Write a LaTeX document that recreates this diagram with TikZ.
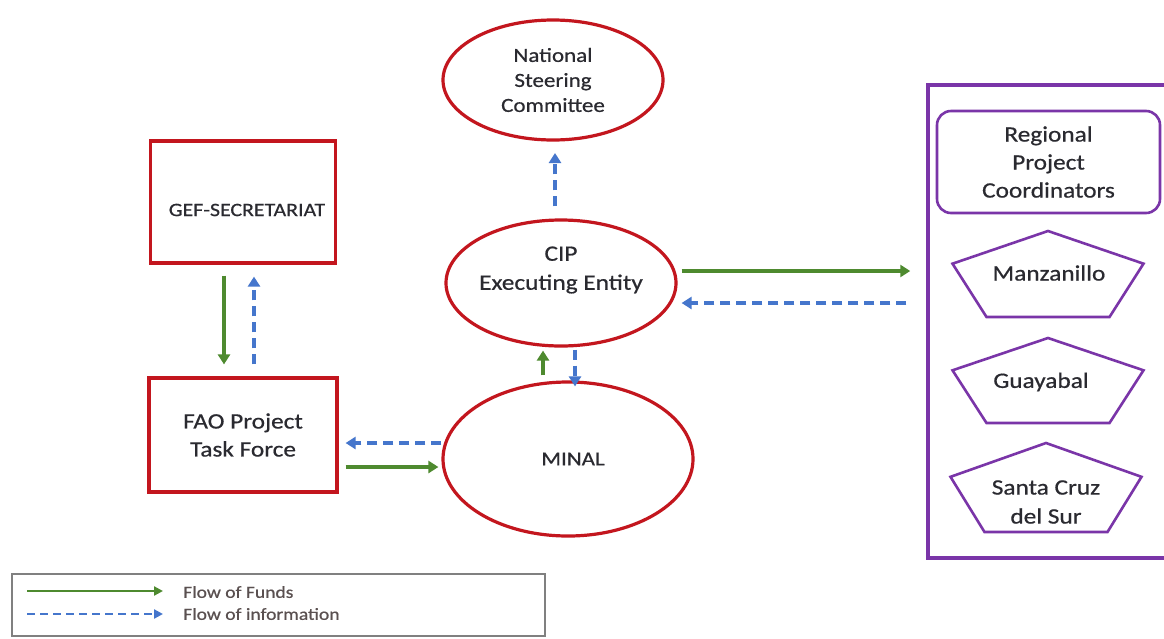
\documentclass[tikz,border=0pt]{standalone}
\usepackage{fontspec}
\setmainfont{Carlito}[FakeStretch=1.15,FakeBold=0.6]
\usetikzlibrary{arrows.meta,shapes.geometric,calc}
\definecolor{redc}{HTML}{C3161E}
\definecolor{greenc}{HTML}{4E8A2F}
\definecolor{bluec}{HTML}{4576CC}
\definecolor{purplec}{HTML}{7A35A8}
\definecolor{txt}{HTML}{2A2A30}
\definecolor{legtxt}{HTML}{5A5050}
\definecolor{leggray}{HTML}{808080}
\tikzset{
  redell/.style={draw=redc, line width=3.2pt, ellipse, inner sep=0pt, align=center, text=txt},
  redbox/.style={draw=redc, line width=3.2pt, rectangle, inner sep=0pt, align=center, text=txt},
  fund/.style={draw=greenc, line width=3.2pt, -{Triangle[length=10pt,width=12pt]}},
  info/.style={draw=bluec, line width=3.2pt, dash pattern=on 10pt off 6pt, -{Triangle[length=10pt,width=12pt]}},
  pentline/.style={draw=purplec, line width=2.6pt, line join=miter},
  lbl/.style={text=txt, align=center, inner sep=0pt},
}
\newcommand\pentagon[3]{% cx, top, height
  \draw[pentline] (#1,#2) -- (#1+95.5,#2+0.38*#3) -- (#1+61.5,#2+#3) -- (#1-61.5,#2+#3) -- (#1-95.5,#2+0.38*#3) -- cycle;}
\begin{document}
\begin{tikzpicture}[x=1pt,y=-1pt]
\clip (0,0) rectangle (1164,638);
\fill[white] (0,0) rectangle (1164,638);

% ellipses
\node[redell, minimum width=220pt, minimum height=120pt, font=\fontsize{20}{25}\selectfont] (nsc) at (553,80) {National\\Steering\\Committee};
\node[redell, minimum width=230pt, minimum height=126pt] (cip) at (561,283) {};
\node[lbl, font=\fontsize{22}{29}\selectfont] (cipt) at (561,270) {CIP\\Executing Entity};
\node[redell, minimum width=250pt, minimum height=154pt, font=\fontsize{20}{24}\selectfont] (minal) at (568,459) {\kern10pt MINAL};

% boxes
\node[redbox, minimum width=185pt, minimum height=122pt] (gef) at (243,202) {};
\node[lbl, font=\fontsize{19}{22}\selectfont] (geft) at (247,210) {GEF-SECRETARIAT};
\node[redbox, minimum width=188pt, minimum height=114pt, font=\fontsize{22}{28}\selectfont] (fao) at (243,435) {FAO Project\\Task Force};

% purple frame
\node[draw=purplec, line width=3.5pt, rectangle, minimum width=250pt, minimum height=473pt, inner sep=0pt] (frame) at (1053,321.5) {};
\node[draw=purplec, line width=2.6pt, rounded corners=14pt, minimum width=223pt, minimum height=102pt, align=center, text=txt, font=\fontsize{22}{28}\selectfont] (rpc) at (1048.5,162) {Regional\\Project\\Coordinators};

\pentagon{1048}{231}{86}
\node[lbl, font=\fontsize{22}{28}\selectfont] (manz) at (1049,273) {Manzanillo};
\pentagon{1048}{338}{85}
\node[lbl, font=\fontsize{22}{28}\selectfont] (guay) at (1041,382) {Guayabal};
\pentagon{1046}{443}{89}
\node[lbl, font=\fontsize{22}{29}\selectfont] (scs) at (1046,502) {Santa Cruz\\del Sur};

% connectors
\draw[info] (555,0 |- cip.north) ++(0,-12) -- (555,153);
\draw[fund, shorten <=11pt, shorten >=12pt] (224,0 |- gef.south) -- (224,0 |- fao.north);
\draw[info, shorten <=12pt, shorten >=12pt] (254,0 |- fao.north) -- (254,0 |- gef.south);
\draw[fund, shorten <=5pt, shorten >=3pt] (543,0 |- minal.north) -- (543,0 |- cip.south);
\draw[info, shorten <=2pt, shorten >=-6pt] (575,0 |- cip.south) -- (575,0 |- minal.north);
\draw[info, shorten >=7pt] (minal.west |- 0,443) -- (fao.east |- 0,443);
\draw[fund, shorten <=7pt, shorten >=3pt] (fao.east |- 0,467) -- (minal.west |- 0,467);
\draw[fund, shorten <=4pt, shorten >=16pt] (cip.east |- 0,271) -- (frame.west |- 0,271);
\draw[info, shorten <=20pt, shorten >=4pt] (frame.west |- 0,303) -- (cip.east |- 0,303);

% legend
\node[draw=leggray, line width=2pt, rectangle, minimum width=533pt, minimum height=62pt, inner sep=0pt] (legend) at (278.5,605) {};
\coordinate (fa) at (27,591);
\coordinate (fb) at (163,591);
\coordinate (ia) at (27,614);
\coordinate (ib) at (163,614);
\draw[fund, line width=2.8pt, -{Triangle[length=9pt,width=9pt]}] (fa) -- (fb);
\draw[info, line width=2.8pt, dash pattern=on 8pt off 5pt, -{Triangle[length=9pt,width=9pt]}] (ia) -- (ib);
\node[anchor=west, inner sep=0pt, text=legtxt, font=\fontsize{17}{20}\selectfont] (lf) at (183,592) {Flow of Funds};
\node[anchor=west, inner sep=0pt, text=legtxt, font=\fontsize{17}{20}\selectfont] (li) at (183,614) {Flow of information};
\end{tikzpicture}
\end{document}
